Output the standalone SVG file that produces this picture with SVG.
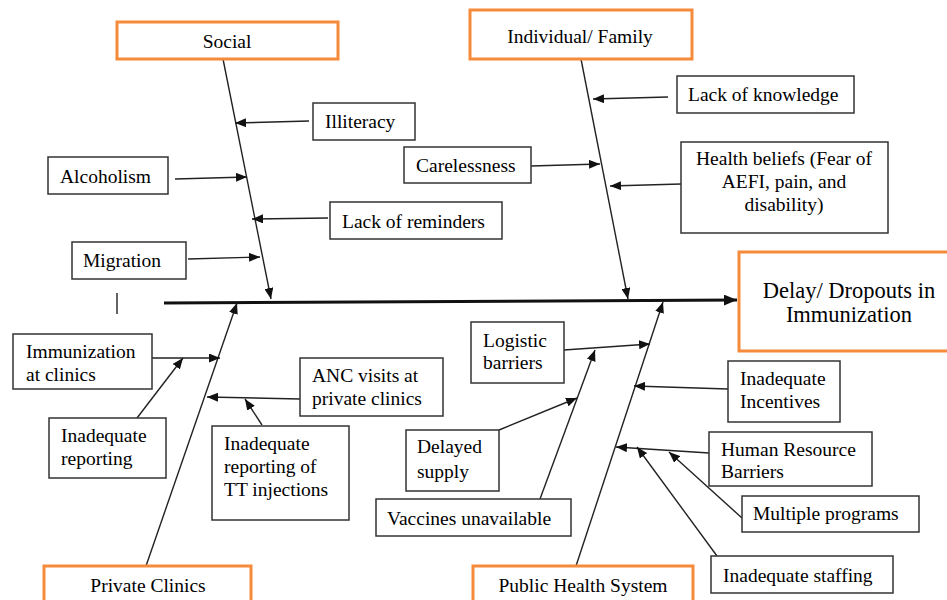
<svg xmlns="http://www.w3.org/2000/svg" width="947" height="600" viewBox="0 0 947 600">
<defs>
<style>
.bx{fill:#fff;stroke:#333;stroke-width:1.5}
.ob{fill:#fff;stroke:#f58a3a;stroke-width:3}
.ln{stroke:#222;stroke-width:1.4;fill:none}
</style>
<marker id="ah" markerWidth="11" markerHeight="9" refX="11" refY="4.5" orient="auto" markerUnits="userSpaceOnUse"><path d="M0,0 L11,4.5 L0,9 z" fill="#111"/></marker>
<marker id="ahb" markerWidth="13" markerHeight="11" refX="13" refY="5.5" orient="auto" markerUnits="userSpaceOnUse"><path d="M0,0 L13,5.5 L0,11 z" fill="#111"/></marker>
</defs>
<rect width="947" height="600" fill="#fff"/>
<g id="connectors">
<line class="ln" x1="223" y1="59" x2="271" y2="299" marker-end="url(#ah)"/>
<line class="ln" x1="309" y1="121" x2="235" y2="123" marker-end="url(#ah)"/>
<line class="ln" x1="175" y1="179" x2="247" y2="177" marker-end="url(#ah)"/>
<line class="ln" x1="328" y1="218" x2="252" y2="219" marker-end="url(#ah)"/>
<line class="ln" x1="188" y1="259" x2="260" y2="257" marker-end="url(#ah)"/>
<line class="ln" x1="581" y1="59" x2="628" y2="299" marker-end="url(#ah)"/>
<line class="ln" x1="668" y1="97" x2="593" y2="99" marker-end="url(#ah)"/>
<line class="ln" x1="531" y1="166" x2="600" y2="164" marker-end="url(#ah)"/>
<line class="ln" x1="681" y1="184" x2="610" y2="186" marker-end="url(#ah)"/>
<line x1="164" y1="303" x2="737" y2="300" stroke="#111" stroke-width="3" marker-end="url(#ahb)"/>
<line class="ln" x1="146" y1="566" x2="237" y2="303" marker-end="url(#ah)"/>
<line class="ln" x1="152" y1="358" x2="220" y2="358" marker-end="url(#ah)"/>
<line class="ln" x1="137" y1="418" x2="183" y2="358" marker-end="url(#ah)"/>
<line class="ln" x1="300" y1="399" x2="207" y2="397" marker-end="url(#ah)"/>
<line class="ln" x1="262" y1="425" x2="245" y2="399" marker-end="url(#ah)"/>
<line class="ln" x1="576" y1="566" x2="663" y2="302" marker-end="url(#ah)"/>
<line class="ln" x1="564" y1="350" x2="650" y2="344" marker-end="url(#ah)"/>
<line class="ln" x1="540" y1="499" x2="595" y2="350" marker-end="url(#ah)"/>
<line class="ln" x1="499" y1="430" x2="577" y2="398" marker-end="url(#ah)"/>
<line class="ln" x1="728" y1="389" x2="634" y2="386" marker-end="url(#ah)"/>
<line class="ln" x1="709" y1="453" x2="616" y2="447" marker-end="url(#ah)"/>
<line class="ln" x1="742" y1="518" x2="669" y2="452" marker-end="url(#ah)"/>
<line class="ln" x1="717" y1="556" x2="637" y2="447" marker-end="url(#ah)"/>
<line class="ln" x1="117" y1="293" x2="117" y2="314"/>
</g>
<g id="social"><rect class="ob" x="117" y="22" width="221" height="37"/><text font-family="Liberation Serif" font-size="19.5" text-anchor="middle" x="227" y="48">Social</text></g>
<g id="individual"><rect class="ob" x="470" y="10" width="222" height="49"/><text font-family="Liberation Serif" font-size="19.5" text-anchor="middle" x="580" y="43">Individual/ Family</text></g>
<g id="effect"><rect class="ob" x="739" y="252" width="212" height="99"/><text font-family="Liberation Serif" font-size="22.5" text-anchor="middle" x="849" y="298">Delay/ Dropouts in</text><text font-family="Liberation Serif" font-size="22.5" text-anchor="middle" x="849" y="322">Immunization</text></g>
<g id="private"><rect class="ob" x="44" y="566" width="207" height="40"/><text font-family="Liberation Serif" font-size="19.5" text-anchor="middle" x="148" y="592">Private Clinics</text></g>
<g id="public"><rect class="ob" x="473" y="566" width="220" height="40"/><text font-family="Liberation Serif" font-size="19.5" text-anchor="middle" x="583" y="592">Public Health System</text></g>
<g id="illiteracy"><rect class="bx" x="313" y="103" width="102" height="37"/><text font-family="Liberation Serif" font-size="19.5" x="325" y="128">Illiteracy</text></g>
<g id="alcoholism"><rect class="bx" x="48" y="157" width="120" height="37"/><text font-family="Liberation Serif" font-size="19.5" x="60" y="183">Alcoholism</text></g>
<g id="reminders"><rect class="bx" x="330" y="202" width="172" height="37"/><text font-family="Liberation Serif" font-size="19.5" x="342" y="228">Lack of reminders</text></g>
<g id="migration"><rect class="bx" x="72" y="242" width="114" height="37"/><text font-family="Liberation Serif" font-size="19.5" x="83" y="267">Migration</text></g>
<g id="carelessness"><rect class="bx" x="404" y="147" width="127" height="36"/><text font-family="Liberation Serif" font-size="19.5" x="416" y="172">Carelessness</text></g>
<g id="knowledge"><rect class="bx" x="677" y="76" width="177" height="37"/><text font-family="Liberation Serif" font-size="19.5" x="688" y="101">Lack of knowledge</text></g>
<g id="beliefs"><rect class="bx" x="681" y="142" width="207" height="91"/><text font-family="Liberation Serif" font-size="19.5" text-anchor="middle" x="784" y="165">Health beliefs (Fear of</text><text font-family="Liberation Serif" font-size="19.5" text-anchor="middle" x="784" y="188">AEFI, pain, and</text><text font-family="Liberation Serif" font-size="19.5" text-anchor="middle" x="784" y="211">disability)</text></g>
<g id="immunization-clinics"><rect class="bx" x="13" y="334" width="139" height="55"/><text font-family="Liberation Serif" font-size="19.5" x="26" y="358">Immunization</text><text font-family="Liberation Serif" font-size="19.5" x="26" y="381">at clinics</text></g>
<g id="inadequate-reporting"><rect class="bx" x="49" y="418" width="117" height="60"/><text font-family="Liberation Serif" font-size="19.5" x="61" y="442">Inadequate</text><text font-family="Liberation Serif" font-size="19.5" x="61" y="465">reporting</text></g>
<g id="anc"><rect class="bx" x="300" y="358" width="143" height="58"/><text font-family="Liberation Serif" font-size="19.5" x="312" y="382">ANC visits at</text><text font-family="Liberation Serif" font-size="19.5" x="312" y="405">private clinics</text></g>
<g id="tt"><rect class="bx" x="212" y="426" width="137" height="94"/><text font-family="Liberation Serif" font-size="19.5" x="224" y="450">Inadequate</text><text font-family="Liberation Serif" font-size="19.5" x="224" y="473">reporting of</text><text font-family="Liberation Serif" font-size="19.5" x="224" y="496">TT injections</text></g>
<g id="logistic"><rect class="bx" x="471" y="322" width="93" height="61"/><text font-family="Liberation Serif" font-size="19.5" x="483" y="347">Logistic</text><text font-family="Liberation Serif" font-size="19.5" x="483" y="369">barriers</text></g>
<g id="delayed"><rect class="bx" x="406" y="430" width="93" height="61"/><text font-family="Liberation Serif" font-size="19.5" x="417" y="453">Delayed</text><text font-family="Liberation Serif" font-size="19.5" x="417" y="478">supply</text></g>
<g id="vaccines"><rect class="bx" x="376" y="499" width="195" height="37"/><text font-family="Liberation Serif" font-size="19.5" x="387" y="525">Vaccines unavailable</text></g>
<g id="incentives"><rect class="bx" x="728" y="361" width="112" height="61"/><text font-family="Liberation Serif" font-size="19.5" x="740" y="385">Inadequate</text><text font-family="Liberation Serif" font-size="19.5" x="740" y="408">Incentives</text></g>
<g id="hr"><rect class="bx" x="709" y="432" width="163" height="54"/><text font-family="Liberation Serif" font-size="19.5" x="721" y="456">Human Resource</text><text font-family="Liberation Serif" font-size="19.5" x="721" y="478">Barriers</text></g>
<g id="multiple"><rect class="bx" x="742" y="496" width="177" height="36"/><text font-family="Liberation Serif" font-size="19.5" x="753" y="520">Multiple programs</text></g>
<g id="staffing"><rect class="bx" x="711" y="556" width="182" height="37"/><text font-family="Liberation Serif" font-size="19.5" x="723" y="582">Inadequate staffing</text></g>
</svg>
